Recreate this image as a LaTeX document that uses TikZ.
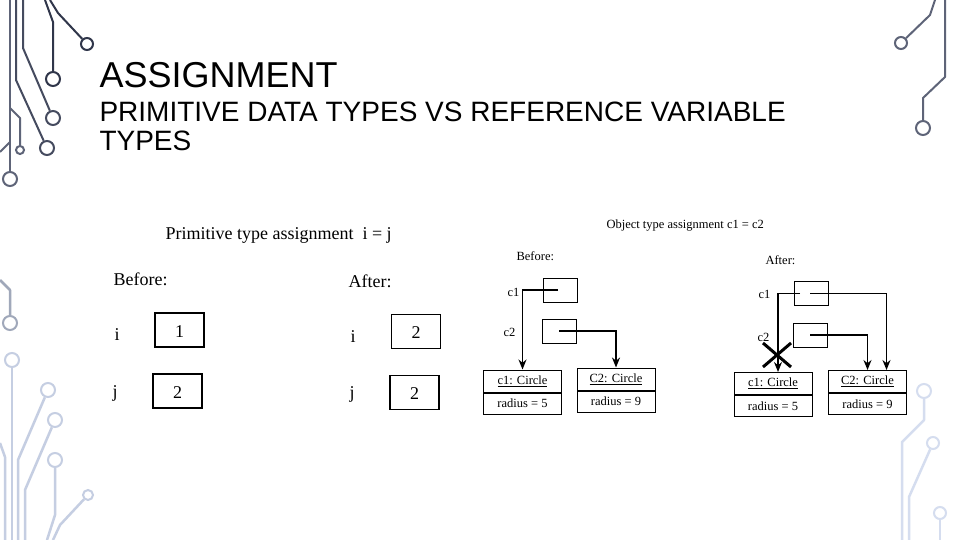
\documentclass[tikz,border=0pt]{standalone}
\usepackage{fontspec}
\setmainfont{Liberation Serif}
\newfontfamily\titlefont{Liberation Sans}
\usetikzlibrary{positioning,arrows.meta}
\definecolor{traceNavy}{HTML}{30364A}
\definecolor{traceSlate}{HTML}{454B5F}
\definecolor{traceSteel}{HTML}{5E6478}
\definecolor{traceGrey}{HTML}{A0A8BA}
\definecolor{traceMist}{HTML}{C5CEE2}
\definecolor{traceIce}{HTML}{D5DDEF}
\tikzset{
    trace/.style={line width=2pt,line join=round},
    pad/.style={circle,draw,line width=2pt,fill=white,inner sep=0pt,minimum size=#1},
    pad/.default=13pt,
    valbox/.style={draw,line width=1.2pt,minimum width=49pt,minimum height=34pt,
        text height=14pt,text depth=0pt,font=\fontsize{18}{20}\selectfont},
    refbox/.style={draw,line width=1pt,minimum width=34pt,minimum height=24pt},
    objtop/.style={draw,line width=1pt,minimum width=78pt,minimum height=22pt,
        inner sep=0pt,font=\fontsize{12.5}{14}\selectfont},
    objbot/.style={objtop,minimum height=21pt},
    ptr/.style={line width=1.3pt,-{Stealth[length=10pt,width=8pt]}},
    big/.style={font=\fontsize{18}{20}\selectfont},
    small/.style={font=\fontsize{12.5}{14}\selectfont}
}
\begin{document}
\begin{tikzpicture}[x=1pt,y=-1pt]
    \useasboundingbox[fill=white] (0,0) rectangle (960,540);
    \begin{scope}[
        trace/.append style={traceNavy},
        every node/.append style={traceNavy}
    ]
        \node[pad=14pt] (t1) at (53,79) {};
        \node[pad=12pt] (t2) at (87,44) {};
        \draw[trace] (45,0) -- (53,22) -- (t1);
        \draw[trace] (50,0) -- (58,13) -- (t2);
    \end{scope}
    \begin{scope}[
        trace/.append style={traceSlate},
        every node/.append style={traceSlate}
    ]
        \node[pad=14pt] (t3) at (53,118) {};
        \node[pad=14pt] (t4) at (47,148) {};
        \draw[trace] (23,0) -- (23,48) -- (t3);
        \draw[trace] (16,0) -- (16,80) -- (t4);
    \end{scope}
    \begin{scope}[
        trace/.append style={traceSteel},
        every node/.append style={traceSteel}
    ]
        \node[pad=14pt] (t5) at (10,179) {};
        \node[pad=8pt] (t6) at (20,150) {};
        \draw[trace] (10,0) -- (t5);
        \draw[trace] (10,108) -- (20,118) -- (t6);
        \draw[trace] (0,152) -- (10,142);
    \end{scope}
    \begin{scope}[
        trace/.append style={traceSteel},
        every node/.append style={traceSteel}
    ]
        \node[pad=12pt] (t7) at (901,43) {};
        \node[pad=14pt] (t8) at (923,128) {};
        \draw[trace] (935,0) -- (930,15) -- (t7);
        \draw[trace] (945,0) -- (945,77) -- (923,98) -- (t8);
    \end{scope}
    \begin{scope}[
        trace/.append style={traceGrey,line width=2.5pt},
        every node/.append style={traceGrey}
    ]
        \node[pad=14pt] (b1) at (10,323) {};
        \draw[trace] (0,280) -- (10,290) -- (b1);
    \end{scope}
    \begin{scope}[
        trace/.append style={traceMist,line width=2.5pt},
        every node/.append style={traceMist}
    ]
        \node[pad=14pt] (b2) at (12,360) {};
        \node[pad=14pt] (b3) at (48,390) {};
        \node[pad=14pt] (b4) at (55,420) {};
        \node[pad=14pt] (b5) at (55,460) {};
        \node[pad=10pt] (b6) at (88,495) {};
        \draw[trace] (b2) -- (12,540);
        \draw[trace] (b3) -- (18,460) -- (18,540);
        \draw[trace] (b4) -- (25,490) -- (25,540);
        \draw[trace] (b5) -- (55,515) -- (47,540);
        \draw[trace] (b6) -- (60,525) -- (53,540);
        \draw[trace] (0,443) -- (5,457) -- (5,540);
    \end{scope}
    \begin{scope}[
        trace/.append style={traceIce,line width=2.5pt},
        every node/.append style={traceIce}
    ]
        \node[pad=14pt] (r1) at (924,391) {};
        \node[pad=12pt] (r2) at (933,443) {};
        \node[pad=12pt] (r3) at (940,513) {};
        \draw[trace] (r1) -- (924,420) -- (902,442) -- (902,540);
        \draw[trace] (r2) -- (909,497) -- (909,540);
        \draw[trace] (r3) -- (940,540);
    \end{scope}
    \node[anchor=base west,font=\titlefont\fontsize{36}{40}\selectfont] (title) at (96,88) {ASSIGNMENT};
    \node[anchor=base west,font=\titlefont\fontsize{28}{30}\selectfont] (subtitle) at (96,122) {PRIMITIVE DATA TYPES VS REFERENCE VARIABLE};
    \node[anchor=base west,font=\titlefont\fontsize{28}{30}\selectfont] (subtitlemore) at (96,151) {TYPES};
    \begin{scope}[
        every node/.append style={big}
    ]
        \node[anchor=base west] (primhead) at (162,239) {Primitive type assignment\ \ i = j};
        \node[anchor=base west] (primbefore) at (110,285) {Before:};
        \node[anchor=base west] (primafter) at (345,287) {After:};
        \node[anchor=base west] (ilabelA) at (111,340) {i};
        \node[anchor=base west] (jlabelA) at (109,397) {j};
        \node[anchor=base west] (ilabelB) at (347,342) {i};
        \node[anchor=base west] (jlabelB) at (346,398) {j};
        \node[valbox] (ibefore) at (179.5,330) {1};
        \node[valbox] (jbefore) at (177.5,391) {2};
        \node[valbox] (iafter) at (416,331.5) {2};
        \node[valbox] (jafter) at (414.5,392.5) {2};
    \end{scope}
    \begin{scope}[
        every node/.append style={small}
    ]
        \node[anchor=base west] (objhead) at (603,228) {Object type assignment c1 = c2};
        \node[anchor=base west] (objbefore) at (513,260) {Before:};
        \node[anchor=base west] (c1labelA) at (504,296) {c1};
        \node[anchor=base west] (c2labelA) at (500,336) {c2};
        \node[refbox] (c1refA) at (560,290) {};
        \node[refbox] (c2refA) at (559,331) {};
        \node[objtop] (c1objA) at (522.5,381) {\underline{c1: Circle}};
        \node[objbot,below=0pt of c1objA] (c1radA) {radius = 5};
        \node[objtop] (c2objA) at (616,379) {\underline{C2: Circle}};
        \node[objbot,below=0pt of c2objA] (c2radA) {radius = 9};
        \draw[ptr] ([xshift=-2pt]c1refA.center) -| (c1objA.north);
        \draw[ptr,line width=1.8pt] (c2refA.center) -| (c2objA.north);
        \node[anchor=base west] (objafter) at (762,264) {After:};
        \node[anchor=base west] (c1labelB) at (755,298) {c1};
        \node[anchor=base west] (c2labelB) at (754,341) {c2};
        \node[refbox] (c1refB) at (811,293.5) {};
        \node[refbox] (c2refB) at (810,335) {};
        \node[objtop] (c1objB) at (773,383.5) {\underline{c1: Circle}};
        \node[objbot,below=0pt of c1objB] (c1radB) {radius = 5};
        \node[objtop] (c2objB) at (867.5,381.5) {\underline{C2: Circle}};
        \node[objbot,below=0pt of c2objB] (c2radB) {radius = 9};
        \draw[ptr] ([xshift=-11pt]c1refB.center) -| ([xshift=5pt]c1objB.north);
        \draw[ptr] ([xshift=-1pt]c1refB.center) -| ([xshift=19pt]c2objB.north);
        \draw[ptr] (c2refB.center) -| (c2objB.north);
        \coordinate (cut) at (777,355);
        \draw[line width=3pt] ([shift={(-14,-12)}]cut) -- ([shift={(14,12)}]cut);
        \draw[line width=3pt] ([shift={(-14,12)}]cut) -- ([shift={(14,-12)}]cut);
    \end{scope}
\end{tikzpicture}
\end{document}
